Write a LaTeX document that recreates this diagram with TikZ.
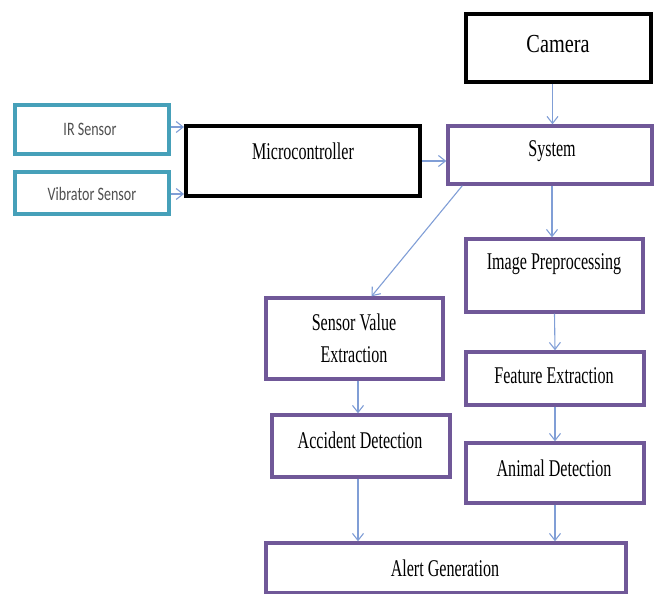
\documentclass[tikz,border=0pt]{standalone}
\usepackage{fontspec}
\setmainfont{Liberation Serif}
\newfontfamily\sensfont{Carlito}
\usetikzlibrary{arrows.meta,shadows}
\definecolor{tealb}{RGB}{70,160,185}
\definecolor{purpb}{RGB}{112,88,152}
\definecolor{arrb}{RGB}{128,158,214}
\definecolor{sgray}{RGB}{80,80,80}
\newcommand{\sq}[1]{\scalebox{0.67}[1]{#1}}
\newcommand{\sqs}[1]{\scalebox{0.74}[1]{#1}}
\begin{document}
\begin{tikzpicture}[x=1pt,y=-1pt,
  box/.style={rectangle,inner sep=0pt,fill=white},
  tbox/.style={box,draw=tealb,line width=3.2pt,drop shadow={shadow xshift=0.5pt,shadow yshift=-1.5pt,fill=tealb!85!black,opacity=0.8}},
  kbox/.style={box,draw=black,line width=4pt},
  pbox/.style={box,draw=purpb,line width=3.4pt,drop shadow={shadow xshift=0.5pt,shadow yshift=-1.6pt,fill=purpb!90!black,opacity=0.8}},
  txt/.style={inner sep=0pt,font=\fontsize{24}{32}\selectfont,text=black,align=center},
  stxt/.style={inner sep=0pt,font=\sensfont\fontsize{19}{22}\selectfont,text=sgray},
  arr/.style={draw=arrb,line width=1.1pt,-{Straight Barb[length=7pt,width=11pt,line width=1.1pt]}}
]
\useasboundingbox (0,0) rectangle (656,594);

% sensors
\node[tbox,minimum width=154pt,minimum height=49pt] (ir) at (92,129.5) {};
\node[stxt] (irt) at (90,129) {\sqs{IR Sensor}};
\node[tbox,minimum width=154pt,minimum height=42pt] (vib) at (92,193) {};
\node[stxt] (vibt) at (92,194) {\sqs{Vibrator Sensor}};

% black boxes
\node[kbox,minimum width=234pt,minimum height=70pt] (mc) at (303,161) {};
\node[txt] (mct) at (303,151) {\sq{Microcontroller}};
\node[kbox,minimum width=185pt,minimum height=68pt] (cam) at (558.5,48) {};
\node[txt,font=\fontsize{26}{30}\selectfont] (camt) at (558,44) {\scalebox{0.78}[1]{Camera}};

% purple boxes
\node[pbox,minimum width=204pt,minimum height=58pt] (sys) at (550,155) {};
\node[txt] (syst) at (552,151) {\sq{System}};
\node[pbox,minimum width=177pt,minimum height=73pt] (ip) at (554.5,275.5) {};
\node[txt] (ipt) at (554,264) {\sq{Image Preprocessing}};
\node[pbox,minimum width=177pt,minimum height=81pt] (sve) at (354.5,338.5) {};
\node[txt] (svet) at (354,338) {\sq{Sensor Value}\\\sq{Extraction}};
\node[pbox,minimum width=178pt,minimum height=53pt] (fe) at (555,378.5) {};
\node[txt] (fet) at (554,376) {\sq{Feature Extraction}};
\node[pbox,minimum width=178pt,minimum height=62pt] (ad) at (361,446) {};
\node[txt] (adt) at (360,440) {\sq{Accident Detection}};
\node[pbox,minimum width=178pt,minimum height=60pt] (an) at (555,473) {};
\node[txt] (ant) at (554,468) {\sq{Animal Detection}};
\node[pbox,minimum width=360pt,minimum height=50pt] (al) at (446,568) {};
\node[txt] (alt) at (445,568) {\sq{Alert Generation}};

% connectors
\draw[arr] ([yshift=2.5pt]ir.east) -- ([yshift=2.5pt]ir.east -| mc.west);
\draw[arr] ([yshift=-1pt]vib.east) -- ([yshift=-1pt]vib.east -| mc.west);
\draw[arr] (mc.east) -- (mc.east -| sys.west);
\draw[arr] ([xshift=-6pt]cam.south) -- ([xshift=-6pt]cam.south |- sys.north);
\draw[arr] ([xshift=-2.5pt]ip.north |- sys.south) -- ([xshift=-2.5pt]ip.north);
\draw[arr] (ip.south) -- (fe.north);
\draw[arr] (fe.south) -- (an.north);
\draw[arr] ([xshift=16pt]sys.south west) -- ([xshift=17pt]sve.north);
\draw[arr] ([xshift=3.5pt]sve.south) -- ([xshift=3.5pt]sve.south |- ad.north);
\draw[arr] ([xshift=-3pt]ad.south) -- ([xshift=-3pt]ad.south |- al.north);
\draw[arr] (an.south) -- (an.south |- al.north);
\end{tikzpicture}
\end{document}
